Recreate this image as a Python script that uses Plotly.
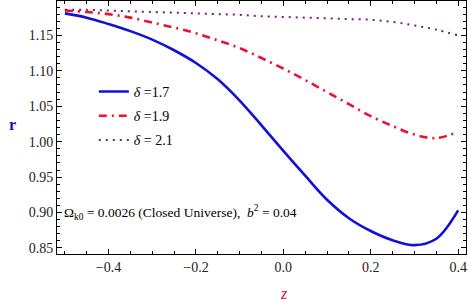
import plotly.graph_objects as go

z = [-0.5, -0.45, -0.4, -0.35, -0.3, -0.25, -0.2, -0.15, -0.1, -0.05, 0.0,
     0.05, 0.1, 0.15, 0.2, 0.25, 0.3, 0.35, 0.4]
r_d17 = [1.181, 1.175, 1.166, 1.156, 1.144, 1.129, 1.111, 1.088, 1.058, 1.023, 0.987,
         0.952, 0.918, 0.892, 0.874, 0.861, 0.854, 0.863, 0.903]
r_d19 = [1.185, 1.183, 1.180, 1.175, 1.168, 1.161, 1.153, 1.143, 1.132, 1.118, 1.103,
         1.087, 1.070, 1.053, 1.036, 1.022, 1.010, 1.005, 1.014]
r_d21 = [1.186, 1.186, 1.185, 1.184, 1.183, 1.182, 1.181, 1.180, 1.179, 1.177, 1.176,
         1.175, 1.174, 1.173, 1.172, 1.169, 1.164, 1.158, 1.150]
labels = ["<i>δ</i> =1.7", "<i>δ</i> =1.9", "<i>δ</i> = 2.1"]

x_ticks = [-0.4, -0.2, 0.0, 0.2, 0.4]
x_ticklabels = ["−0.4", "−0.2", "0.0", "0.2", "0.4"]
y_ticks = [0.85, 0.90, 0.95, 1.00, 1.05, 1.10, 1.15]
y_ticklabels = ["0.85", "0.90", "0.95", "1.00", "1.05", "1.10", "1.15"]

serif = "Liberation Serif, Times New Roman, serif"

fig = go.Figure()
fig.add_trace(go.Scatter(x=z, y=r_d17, mode="lines", name=labels[0], legendgroup="a",
                         line=dict(color="#1010d8", width=2.6, shape="spline")))
fig.add_trace(go.Scatter(x=z, y=r_d19, mode="lines", name=labels[1], legendgroup="b",
                         line=dict(color="#ee1030", width=2.6, shape="spline", dash="8px,5px,2px,5px")))
fig.add_trace(go.Scatter(x=z, y=r_d21, mode="lines", name=labels[2], legendgroup="c",
                         line=dict(color="#7a1a8a", width=2.0, shape="spline", dash="2px,5px")))

axis_common = dict(showline=True, linecolor="black", linewidth=1, mirror="ticks",
                   ticks="inside", ticklen=5, tickcolor="black", showgrid=False, zeroline=False,
                   automargin=False,
                   tickfont=dict(family=serif, size=14, color="#222"))

fig.update_xaxes(range=[-0.518, 0.418], tickvals=x_ticks, ticktext=x_ticklabels,
                 minor=dict(ticks="inside", ticklen=3, dtick=0.05, tick0=0, tickcolor="black"),
                 **axis_common)
fig.update_yaxes(range=[0.8415, 1.1985], tickvals=y_ticks, ticktext=y_ticklabels,
                 minor=dict(ticks="inside", ticklen=3, dtick=0.01, tick0=0, tickcolor="black"),
                 **axis_common)

fig.add_annotation(xref="paper", yref="paper", x=(284 - 57) / 409, y=-(293 - 254) / 253,
                   xanchor="center", yanchor="middle", text="<i>z</i>", showarrow=False,
                   font=dict(family=serif, size=16, color="#d01040"))
fig.add_annotation(xref="paper", yref="paper", x=-(57 - 12) / 409, y=(254 - 125) / 253,
                   xanchor="center", yanchor="middle", text="<b>r</b>", showarrow=False,
                   font=dict(family=serif, size=16, color="#1010c0"))
fig.add_annotation(xref="paper", yref="y", x=0.012, y=0.90, xanchor="left", yanchor="middle",
                   text="Ω<sub>k0</sub> = 0.0026 (Closed Universe),  <i>b</i><sup>2</sup> = 0.04",
                   showarrow=False, font=dict(family=serif, size=13.5, color="black"))

fig.update_layout(width=469, height=305, margin=dict(l=57, r=3, t=1, b=51, autoexpand=False),
                  paper_bgcolor="white", plot_bgcolor="white",
                  legend=dict(x=0.09, y=0.704, xanchor="left", yanchor="top",
                              bgcolor="rgba(0,0,0,0)", font=dict(family=serif, size=14, color="black"),
                              itemwidth=30, tracegroupgap=3))
fig.write_html("out.html", config={"displayModeBar": False},
               post_script="document.body.style.margin='0px';document.body.style.overflow='hidden';")
